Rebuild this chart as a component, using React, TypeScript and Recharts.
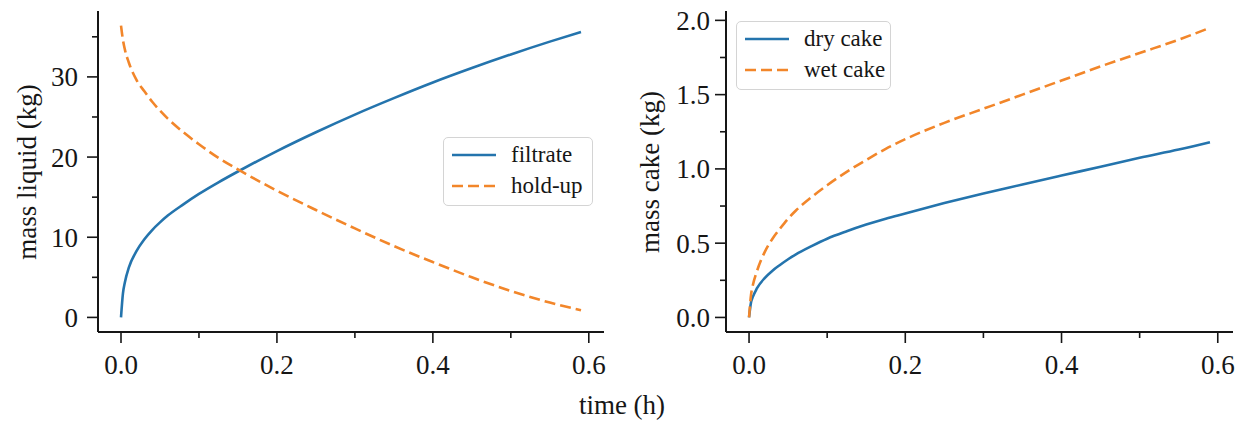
import { LineChart, Line, XAxis, YAxis, Legend } from "recharts";

// time axis shared by both panels (h)
const timeH = [0, 0.0025, 0.005, 0.01, 0.02, 0.03, 0.04, 0.05, 0.06, 0.08, 0.1, 0.125, 0.15, 0.175, 0.2, 0.25, 0.3, 0.35, 0.4, 0.45, 0.5, 0.55, 0.59];

// left panel: liquid mass (kg)
const filtrateKg = [0, 3.0, 4.4, 6.2, 8.3, 9.75, 10.9, 11.85, 12.7, 14.1, 15.4, 16.85, 18.2, 19.5, 20.75, 23.1, 25.3, 27.35, 29.3, 31.1, 32.8, 34.4, 35.6];
const holdUpKg = [36.4, 34.6, 33.4, 31.8, 29.6, 28.2, 26.9, 25.8, 24.8, 23.1, 21.6, 19.9, 18.45, 17.1, 15.8, 13.4, 11.1, 8.9, 6.9, 5.0, 3.3, 1.85, 0.9];

// right panel: cake mass (kg)
const dryCakeKg = [0, 0.1, 0.14, 0.195, 0.265, 0.315, 0.355, 0.392, 0.425, 0.48, 0.53, 0.58, 0.625, 0.665, 0.7, 0.77, 0.835, 0.895, 0.955, 1.015, 1.075, 1.13, 1.18];
const wetCakeKg = [0, 0.15, 0.22, 0.31, 0.44, 0.53, 0.6, 0.665, 0.72, 0.81, 0.89, 0.98, 1.06, 1.135, 1.2, 1.31, 1.405, 1.5, 1.595, 1.69, 1.78, 1.87, 1.95];

const timeTicks = [0, 0.1, 0.2, 0.3, 0.4, 0.5, 0.6];
const liquidTicks = [0, 5, 10, 15, 20, 25, 30, 35];
const cakeTicks = [0, 0.25, 0.5, 0.75, 1, 1.25, 1.5, 1.75, 2];

const liquidRows = timeH.map((t, i) => ({ t, filtrate: filtrateKg[i], holdUp: holdUpKg[i] }));
const cakeRows = timeH.map((t, i) => ({ t, dry: dryCakeKg[i], wet: wetCakeKg[i] }));

const BLUE = "#2474ad";
const ORANGE = "#f2862a";
const INK = "#161616";
const FONT = '"Liberation Serif", "Times New Roman", serif';
const FS = 27;

function makeXTick() {
  return (props: any) => {
    const { x, y, payload } = props;
    const v = payload.value as number;
    const major = Math.round(v * 10) % 2 === 0;
    return (
      <g>
        <line x1={x} x2={x} y1={y} y2={y + (major ? 11 : 6)} stroke={INK} strokeWidth={1.6} />
        {major && (
          <text x={x} y={y + 23} dy="0.71em" textAnchor="middle" fontFamily={FONT} fontSize={FS} fill={INK}>
            {v.toFixed(1)}
          </text>
        )}
      </g>
    );
  };
}

function makeYTick(isMajor: (v: number) => boolean, fmt: (v: number) => string, gap: number) {
  return (props: any) => {
    const { x, y, payload } = props;
    const v = payload.value as number;
    const major = isMajor(v);
    return (
      <g>
        <line x1={x - (major ? 11 : 6)} x2={x} y1={y} y2={y} stroke={INK} strokeWidth={1.6} />
        {major && (
          <text x={x - 11 - gap} y={y} dy="0.355em" textAnchor="end" fontFamily={FONT} fontSize={FS} fill={INK}>
            {fmt(v)}
          </text>
        )}
      </g>
    );
  };
}

function LegendBox(props: any) {
  const payload = props.payload || [];
  return (
    <div
      style={{
        width: "100%",
        height: "100%",
        boxSizing: "border-box",
        border: "1px solid #d4d4d4",
        borderRadius: 5,
        background: "rgba(255,255,255,0.85)",
        position: "relative",
        fontFamily: FONT,
        fontSize: 23,
        color: INK,
      }}
    >
      {payload.map((e: any, i: number) => (
        <div
          key={i}
          style={{ position: "absolute", left: 0, top: 2 + 31 * i, height: 30, display: "flex", alignItems: "center" }}
        >
          <svg width={60} height={30}>
            <line
              x1={8}
              x2={52}
              y1={15}
              y2={15}
              stroke={e.color}
              strokeWidth={2.6}
              strokeDasharray={e.payload?.strokeDasharray}
            />
          </svg>
          <span style={{ marginLeft: 7, lineHeight: "30px", whiteSpace: "nowrap" }}>{e.value}</span>
        </div>
      ))}
    </div>
  );
}

const axisLine = { stroke: INK, strokeWidth: 2 };

export default function App() {
  return (
    <div style={{ position: "absolute", left: 0, top: 0, width: 1251, height: 424, background: "#fff" }}>
      <div style={{ position: "absolute", left: 0, top: 0 }}>
        <LineChart width={620} height={424} data={liquidRows} margin={{ top: 11, right: 16, bottom: 0, left: 0 }}>
          <XAxis
            dataKey="t"
            type="number"
            domain={[-0.0295, 0.6195]}
            ticks={timeTicks}
            interval={0}
            allowDataOverflow
            height={92}
            tickSize={0}
            tickMargin={0}
            tickLine={false}
            axisLine={axisLine}
            tick={makeXTick()}
          />
          <YAxis
            type="number"
            domain={[-1.82, 38.22]}
            ticks={liquidTicks}
            interval={0}
            allowDataOverflow
            width={98}
            tickSize={0}
            tickMargin={0}
            tickLine={false}
            axisLine={axisLine}
            tick={makeYTick((v) => v % 10 === 0, (v) => String(v), 9)}
          />
          <Legend
            layout="vertical"
            align="center"
            verticalAlign="middle"
            width={150}
            height={69}
            wrapperStyle={{ left: 443, top: 137, width: 150, height: 69 }}
            content={<LegendBox />}
          />
          <Line dataKey="filtrate" name="filtrate" type="monotone" stroke={BLUE} strokeWidth={2.6} dot={false} activeDot={false} isAnimationActive={false} />
          <Line dataKey="holdUp" name="hold-up" type="monotone" stroke={ORANGE} strokeWidth={2.6} strokeDasharray="11 5" dot={false} activeDot={false} isAnimationActive={false} />
        </LineChart>
      </div>

      <div style={{ position: "absolute", left: 620, top: 0 }}>
        <LineChart width={631} height={424} data={cakeRows} margin={{ top: 11, right: 18, bottom: 0, left: 0 }}>
          <XAxis
            dataKey="t"
            type="number"
            domain={[-0.0295, 0.6195]}
            ticks={timeTicks}
            interval={0}
            allowDataOverflow
            height={92}
            tickSize={0}
            tickMargin={0}
            tickLine={false}
            axisLine={axisLine}
            tick={makeXTick()}
          />
          <YAxis
            type="number"
            domain={[-0.098, 2.063]}
            ticks={cakeTicks}
            interval={0}
            allowDataOverflow
            width={106}
            tickSize={0}
            tickMargin={0}
            tickLine={false}
            axisLine={axisLine}
            tick={makeYTick((v) => Math.round(v * 4) % 2 === 0, (v) => v.toFixed(1), 5)}
          />
          <Legend
            layout="vertical"
            align="center"
            verticalAlign="middle"
            width={155}
            height={69}
            wrapperStyle={{ left: 116, top: 21, width: 155, height: 69 }}
            content={<LegendBox />}
          />
          <Line dataKey="dry" name="dry cake" type="monotone" stroke={BLUE} strokeWidth={2.6} dot={false} activeDot={false} isAnimationActive={false} />
          <Line dataKey="wet" name="wet cake" type="monotone" stroke={ORANGE} strokeWidth={2.6} strokeDasharray="11 5" dot={false} activeDot={false} isAnimationActive={false} />
        </LineChart>
      </div>

      {/* axis titles */}
      <svg width={1251} height={424} style={{ position: "absolute", left: 0, top: 0, pointerEvents: "none" }}>
        <text x={27} y={172} transform="rotate(-90 27 172)" textAnchor="middle" dominantBaseline="central" fontFamily={FONT} fontSize={FS} fill={INK}>
          mass liquid (kg)
        </text>
        <text x={650} y={172} transform="rotate(-90 650 172)" textAnchor="middle" dominantBaseline="central" fontFamily={FONT} fontSize={FS} fill={INK}>
          mass cake (kg)
        </text>
        <text x={622} y={405} textAnchor="middle" dominantBaseline="central" fontFamily={FONT} fontSize={FS} fill={INK}>
          time (h)
        </text>
      </svg>
    </div>
  );
}
